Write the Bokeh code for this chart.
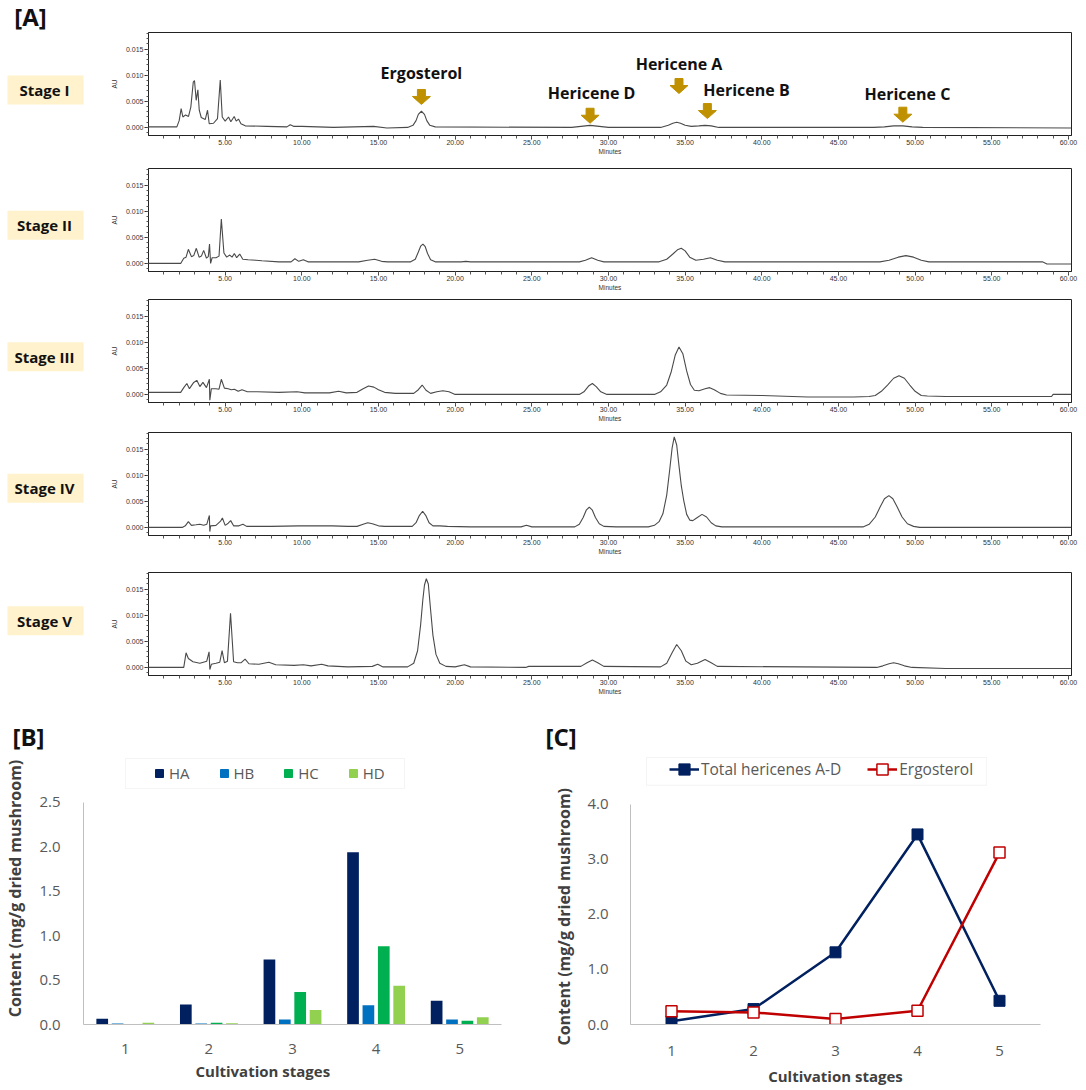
import math
from bokeh.plotting import figure
from bokeh.layouts import row, column
from bokeh.models import (Range1d, FixedTicker, NumeralTickFormatter, Legend, Title,
                          LegendItem, BoxAnnotation, ColumnDataSource)
from bokeh.transform import dodge
from bokeh.core.properties import value
from bokeh.embed import file_html
from bokeh.resources import INLINE

FONT = "Open Sans"
TICK_FONT = "Liberation Sans"

# ---------------- Panel A data (chromatogram traces) -------------
stage_names = ["Stage I", "Stage II", "Stage III", "Stage IV", "Stage V"]

s1_t = [0.0, 1.85, 2.0, 2.13, 2.24, 2.42, 2.61, 2.76, 2.92, 3.0,
        3.11, 3.22, 3.31, 3.44, 3.7, 3.85, 3.96, 4.24, 4.5, 4.68,
        4.81, 5.0, 5.22, 5.37, 5.59, 5.72, 5.87, 6.03, 6.31, 7.72,
        9.03, 9.24, 9.46, 10.0, 12.07, 14.68, 15.55, 16.9, 17.25, 17.45,
        17.6, 17.8, 18.0, 18.15, 18.35, 18.7, 27.6, 28.2, 28.8, 29.4,
        30.0, 33.4, 33.9, 34.2, 34.45, 34.7, 35.0, 35.4, 35.9, 36.3,
        36.7, 37.2, 47.3, 48.0, 48.6, 49.2, 49.8, 50.5, 60.2]
s1_au = [0.0001, 0.0001, 0.0013, 0.0036, 0.0020, 0.0024, 0.0021, 0.0039, 0.0087, 0.0090,
         0.0052, 0.0072, 0.0033, 0.0019, 0.0015, 0.0033, 0.0007, 0.0008, 0.0017, 0.0091,
         0.0020, 0.0012, 0.0020, 0.0011, 0.0021, 0.0012, 0.0016, 0.0007, 0.0003, 0.0002,
         0.0001, 0.0005, 0.0002, 0.0002, 0.0000, 0.0002, -0.0001, 0.0000, 0.0004, 0.0013,
         0.0025, 0.0031, 0.0025, 0.0013, 0.0004, 0.0001, 0.0000, 0.0002, 0.0004, 0.0002,
         0.0000, 0.0000, 0.0004, 0.0008, 0.0010, 0.0008, 0.0004, 0.0002, 0.0003, 0.0004,
         0.0003, 0.0000, 0.0000, 0.0001, 0.0003, 0.0003, 0.0001, 0.0000, -0.0001]

s2_t = [0.0, 2.1, 2.3, 2.45, 2.6, 2.8, 2.95, 3.12, 3.3, 3.45,
        3.6, 3.78, 3.9, 3.98, 4.05, 4.15, 4.4, 4.6, 4.75, 4.92,
        5.1, 5.3, 5.45, 5.6, 5.75, 5.95, 6.15, 6.5, 7.0, 7.4,
        8.5, 9.3, 9.55, 9.8, 10.1, 10.4, 13.7, 14.3, 14.75, 15.2,
        15.6, 17.1, 17.4, 17.6, 17.75, 17.9, 18.05, 18.2, 18.4, 18.7,
        20.4, 20.7, 21.0, 28.1, 28.5, 28.9, 29.3, 29.7, 33.3, 33.8,
        34.2, 34.5, 34.75, 35.0, 35.3, 35.7, 36.2, 36.65, 37.1, 37.6,
        47.7, 48.3, 48.9, 49.4, 49.9, 50.4, 50.9, 58.3, 58.6, 60.2]
s2_au = [0.0, 0.0, 0.0010, 0.0012, 0.0027, 0.0013, 0.0015, 0.0029, 0.0012, 0.0014,
         0.0025, 0.0010, 0.0013, 0.0037, 0.0000, 0.0011, 0.0011, 0.0014, 0.0085, 0.0020,
         0.0012, 0.0016, 0.0012, 0.0019, 0.0011, 0.0018, 0.0008, 0.0007, 0.0006, 0.0005,
         0.0003, 0.0003, 0.0009, 0.0004, 0.0007, 0.0003, 0.0003, 0.0006, 0.0008, 0.0004,
         0.0003, 0.0003, 0.0008, 0.0022, 0.0033, 0.0037, 0.0032, 0.0019, 0.0007, 0.0003,
         0.0003, 0.0004, 0.0003, 0.0003, 0.0006, 0.0011, 0.0006, 0.0003, 0.0003, 0.0008,
         0.0018, 0.0026, 0.0029, 0.0024, 0.0012, 0.0006, 0.0008, 0.0011, 0.0006, 0.0003,
         0.0003, 0.0006, 0.0012, 0.0015, 0.0012, 0.0006, 0.0003, 0.0003, -0.0001, -0.0001]

s3_t = [0.0, 2.1, 2.3, 2.5, 2.67, 2.95, 3.15, 3.35, 3.55, 3.78,
        3.97, 4.0, 4.1, 4.4, 4.6, 4.75, 4.95, 5.2, 5.4, 5.6,
        5.85, 6.1, 6.45, 7.1, 8.5, 9.7, 10.2, 11.8, 12.4, 12.9,
        13.6, 14.0, 14.35, 14.7, 15.0, 15.4, 16.1, 17.3, 17.6, 17.85,
        18.1, 18.4, 18.8, 19.2, 19.6, 20.0, 28.1, 28.4, 28.7, 28.95,
        29.2, 29.5, 29.9, 33.0, 33.4, 33.8, 34.1, 34.35, 34.6, 34.85,
        35.1, 35.35, 35.6, 35.9, 36.3, 36.6, 36.9, 37.3, 37.7, 40.0,
        43.0, 46.0, 47.0, 47.4, 47.8, 48.2, 48.6, 48.95, 49.3, 49.65,
        50.0, 50.4, 50.8, 52.0, 55.0, 58.9, 59.0, 60.2]
s3_au = [0.0004, 0.0004, 0.0013, 0.0021, 0.0011, 0.0023, 0.0027, 0.0015, 0.0023, 0.0013,
         0.0029, -0.0011, 0.0011, 0.0011, 0.0010, 0.0029, 0.0012, 0.0011, 0.0009, 0.0010,
         0.0006, 0.0009, 0.0005, 0.0005, 0.0004, 0.0005, 0.0003, 0.0003, 0.0006, 0.0003,
         0.0004, 0.0011, 0.0016, 0.0014, 0.0009, 0.0004, 0.0002, 0.0002, 0.0009, 0.0018,
         0.0008, 0.0002, 0.0005, 0.0007, 0.0005, 0.0000, 0.0000, 0.0005, 0.0016, 0.0021,
         0.0015, 0.0005, 0.0000, 0.0000, 0.0005, 0.0018, 0.0044, 0.0075, 0.0091, 0.0078,
         0.0045, 0.0019, 0.0008, 0.0007, 0.0011, 0.0013, 0.0009, 0.0002, -0.0001, -0.0002,
         -0.0005, -0.0005, -0.0004, -0.0002, 0.0006, 0.0018, 0.0031, 0.0036, 0.0031, 0.0018,
         0.0006, -0.0002, -0.0003, -0.0004, -0.0004, -0.0004, 0.0000, 0.0000]

s4_t = [0.0, 2.2, 2.4, 2.6, 2.8, 3.1, 3.35, 3.6, 3.8, 3.97,
        4.0, 4.05, 4.4, 4.7, 4.82, 5.0, 5.2, 5.36, 5.55, 5.9,
        6.16, 6.4, 7.0, 8.0, 9.8, 12.0, 13.0, 13.6, 14.0, 14.3,
        14.6, 15.0, 15.4, 17.2, 17.45, 17.65, 17.88, 18.1, 18.3, 18.55,
        19.0, 19.5, 21.0, 24.3, 24.65, 25.0, 27.8, 28.1, 28.35, 28.55,
        28.75, 28.95, 29.15, 29.4, 29.7, 30.5, 32.6, 33.0, 33.3, 33.55,
        33.8, 34.0, 34.15, 34.29, 34.45, 34.6, 34.75, 34.9, 35.1, 35.3,
        35.5, 35.75, 36.1, 36.4, 36.7, 37.0, 37.4, 40.0, 46.6, 47.0,
        47.4, 47.7, 48.0, 48.29, 48.55, 48.85, 49.15, 49.5, 49.9, 50.3,
        60.2]
s4_au = [0.0, 0.0, 0.0003, 0.0011, 0.0004, 0.0005, 0.0006, 0.0004, 0.0006, 0.0023,
         -0.0008, 0.0003, 0.0004, 0.0012, 0.0018, 0.0004, 0.0008, 0.0013, 0.0003, 0.0003,
         0.0006, 0.0002, 0.0002, 0.0002, 0.0003, 0.0003, 0.0002, 0.0002, 0.0006, 0.0009,
         0.0007, 0.0003, 0.0002, 0.0002, 0.0009, 0.0022, 0.0031, 0.0022, 0.0009, 0.0003,
         0.0003, 0.0002, 0.0001, 0.0001, 0.0004, 0.0001, 0.0001, 0.0006, 0.0019, 0.0033,
         0.0039, 0.0033, 0.0019, 0.0007, 0.0002, 0.0001, 0.0001, 0.0004, 0.0011, 0.0026,
         0.0062, 0.0112, 0.0152, 0.01735, 0.0158, 0.0118, 0.0080, 0.0053, 0.0025, 0.0014,
         0.0013, 0.0018, 0.0025, 0.0020, 0.0009, 0.0003, 0.0001, 0.0001, 0.0001, 0.0006,
         0.0020, 0.0038, 0.0055, 0.0061, 0.0055, 0.0038, 0.0020, 0.0007, 0.0002, 0.0000,
         0.0000]

s5_t = [0.0, 2.3, 2.45, 2.6, 2.9, 3.35, 3.8, 3.95, 4.0, 4.1,
        4.4, 4.65, 4.8, 4.95, 5.15, 5.35, 5.55, 5.8, 6.05, 6.3,
        6.55, 7.2, 7.85, 8.3, 9.5, 10.1, 10.6, 11.3, 11.7, 13.0,
        14.6, 14.95, 15.3, 16.9, 17.3, 17.55, 17.75, 17.9, 18.0, 18.12,
        18.25, 18.4, 18.55, 18.75, 19.0, 19.4, 20.0, 20.6, 21.0, 24.6,
        24.8, 28.2, 28.6, 28.95, 29.3, 29.7, 33.4, 33.8, 34.15, 34.45,
        34.75, 35.05, 35.4, 35.8, 36.3, 36.7, 37.1, 47.5, 47.9, 48.3,
        48.6, 48.9, 49.3, 49.8, 52.0, 60.2]
s5_au = [0.0, 0.0, 0.0028, 0.0017, 0.0011, 0.0008, 0.0012, 0.0030, -0.0004, 0.0006,
         0.0008, 0.0010, 0.0032, 0.0009, 0.0012, 0.0104, 0.0011, 0.0009, 0.0009, 0.0016,
         0.0007, 0.0006, 0.0010, 0.0005, 0.0004, 0.0005, 0.0003, 0.0006, 0.0003, 0.0001,
         0.0002, 0.0006, 0.0001, 0.0001, 0.0008, 0.0032, 0.0082, 0.0132, 0.0158, 0.0170,
         0.0160, 0.0110, 0.0062, 0.0025, 0.0008, 0.0002, 0.0001, 0.0005, 0.0001, 0.0000,
         0.0002, 0.0002, 0.0009, 0.0014, 0.0009, 0.0002, 0.0001, 0.0008, 0.0028, 0.0044,
         0.0032, 0.0012, 0.0005, 0.0008, 0.0015, 0.0009, 0.0002, 0.0000, 0.0003, 0.0007,
         0.0009, 0.0007, 0.0003, 0.0000, -0.0002, -0.0002]

peak_labels = ["Ergosterol", "Hericene D", "Hericene A", "Hericene B", "Hericene C"]
peak_label_t = [17.8, 28.9, 34.6, 39.0, 49.5]
peak_label_au = [0.0105, 0.0066, 0.0122, 0.0072, 0.0065]
arrow_t = [17.8, 28.8, 34.6, 36.45, 49.2]
arrow_tip_au = [0.0044, 0.0008, 0.0065, 0.0017, 0.0010]

minute_ticks = [5, 10, 15, 20, 25, 30, 35, 40, 45, 50, 55, 60]
minute_minor = list(range(1, 61))
au_ticks = [0.0, 0.005, 0.010, 0.015]
au_minor = [i / 1000 for i in range(-1, 19)]

# ---------------- Panel B / C data -------------
stages = [1, 2, 3, 4, 5]
HA = [0.064, 0.226, 0.733, 1.94, 0.267]
HB = [0.011, 0.011, 0.056, 0.218, 0.056]
HC = [0.0, 0.019, 0.365, 0.88, 0.041]
HD = [0.019, 0.015, 0.162, 0.436, 0.083]
total_hericenes = [0.06, 0.28, 1.31, 3.45, 0.43]
ergosterol = [0.24, 0.22, 0.10, 0.25, 3.12]

# ---------------- Panel A figures -------------
XR = (0, 60.2)
YR = (-0.00155, 0.0182)
FRAME_W = 923
FRAME_H = 103


def chrom(t, au, top, bottom):
    p = figure(width=984, height=top + FRAME_H + bottom,
               x_range=Range1d(*XR), y_range=Range1d(*YR),
               output_backend="svg", toolbar_location=None, title=None,
               min_border_left=48, min_border_right=13,
               min_border_top=top, min_border_bottom=bottom,
               background_fill_color="white", border_fill_color="white")
    p.line(t, au, line_color="#4a4a4a", line_width=1.1)
    p.xgrid.visible = False
    p.ygrid.visible = False
    p.outline_line_color = "#222222"
    p.outline_line_width = 1
    xa = p.xaxis[0]
    xa.ticker = FixedTicker(ticks=minute_ticks, minor_ticks=minute_minor)
    xa.formatter = NumeralTickFormatter(format="0.00")
    xa.axis_label = "Minutes"
    ya = p.yaxis[0]
    ya.ticker = FixedTicker(ticks=au_ticks, minor_ticks=au_minor)
    ya.formatter = NumeralTickFormatter(format="0.000")
    ya.axis_label = "AU"
    for ax in (xa, ya):
        ax.axis_line_color = "#222222"
        ax.major_tick_line_color = "#333333"
        ax.minor_tick_line_color = "#555555"
        ax.major_tick_in = 0
        ax.minor_tick_in = 0
        ax.major_label_text_font = TICK_FONT
        ax.major_label_text_font_size = "7px"
        ax.major_label_text_color = "#333333"
        ax.axis_label_text_font = TICK_FONT
        ax.axis_label_text_font_size = "6.5px"
        ax.axis_label_text_font_style = "normal"
        ax.axis_label_text_color = "#333333"
    xa.major_tick_out = 4
    xa.minor_tick_out = 3
    xa.major_label_standoff = 0
    xa.axis_label_standoff = 0
    ya.major_tick_out = 4
    ya.minor_tick_out = 2
    ya.major_label_standoff = 1
    ya.axis_label_standoff = 5
    return p


traces = [(s1_t, s1_au), (s2_t, s2_au), (s3_t, s3_au), (s4_t, s4_au), (s5_t, s5_au)]
borders = [(32, 29), (4, 27), (1, 29), (1, 36), (1, 33)]
chroms = [chrom(t, a, tb, bb) for (t, a), (tb, bb) in zip(traces, borders)]

# annotations on stage I
p1 = chroms[0]
p1.text(x=peak_label_t, y=peak_label_au, text=peak_labels,
        text_font=value(FONT), text_font_style="bold", text_font_size="16px",
        text_align="center", text_baseline="middle", text_color="#111111")
px_x = (XR[1] - XR[0]) / FRAME_W
px_y = (YR[1] - YR[0]) / FRAME_H
arrow_shape = [(-4, 15), (4, 15), (4, 8), (9, 8), (0, 0), (-9, 8), (-4, 8)]
arr_xs = [[t + dx * px_x for dx, dy in arrow_shape] for t in arrow_t]
arr_ys = [[a + dy * px_y for dx, dy in arrow_shape] for a in arrow_tip_au]
p1.patches(arr_xs, arr_ys, fill_color="#BF9000", line_color="#BF9000", line_width=1)

# left column with stage labels
PANEL_A_H = 708
stage_label_y = [89.5, 224.8, 356.3, 487.8, 620.2]
pl = figure(width=100, height=PANEL_A_H, x_range=Range1d(0, 100), y_range=Range1d(PANEL_A_H, 0),
            output_backend="svg", toolbar_location=None, title=None,
            x_axis_location=None, y_axis_location=None, min_border=0,
            background_fill_color="white", border_fill_color="white")
pl.xgrid.visible = False
pl.ygrid.visible = False
pl.outline_line_color = None
pl.rect(x=[45] * 5, y=stage_label_y, width=76, height=29,
        fill_color="#FFF2CC", line_color=None)
pl.text(x=[44] * 5, y=stage_label_y, text=stage_names,
        text_font=value(FONT), text_font_style="bold", text_font_size="15px",
        text_align="center", text_baseline="middle", text_color="#111111")
pl.text(x=[30], y=[16], text=["[A]"], text_font=value(FONT), text_font_style="bold",
        text_font_size="24px", text_align="center", text_baseline="middle",
        text_color="#111111")

panelA = row(pl, column(*chroms))


def style_xy(p, yticks, ybounds, ystandoff, xstandoff):
    p.xgrid.visible = False
    p.ygrid.visible = False
    p.outline_line_color = None
    p.xaxis.ticker = FixedTicker(ticks=stages)
    p.yaxis.ticker = FixedTicker(ticks=yticks)
    p.yaxis.formatter = NumeralTickFormatter(format="0.0")
    p.yaxis.bounds = ybounds
    for ax in (p.xaxis[0], p.yaxis[0]):
        ax.axis_line_color = "#BFBFBF"
        ax.axis_line_width = 1
        ax.major_tick_line_color = None
        ax.minor_tick_line_color = None
        ax.major_tick_out = 0
        ax.major_tick_in = 0
        ax.minor_tick_out = 0
        ax.minor_tick_in = 0
        ax.major_label_text_font = FONT
        ax.major_label_text_font_size = "15px"
        ax.major_label_text_color = "#595959"
        ax.axis_label_text_font = FONT
        ax.axis_label_text_font_style = "bold"
        ax.axis_label_text_color = "#404040"
    p.yaxis.major_label_standoff = ystandoff
    p.xaxis.major_label_standoff = xstandoff


def panel_title(p, text, offset):
    p.add_layout(Title(text=text, align="left", offset=offset, standoff=0,
                       vertical_align="bottom", text_font=FONT, text_font_style="bold",
                       text_font_size="24px", text_color="#111111"), "above")


# ---------------- Panel B -------------
pB = figure(width=535, height=380, x_range=Range1d(0.5, 5.5), y_range=Range1d(0, 3.063),
            output_backend="svg", toolbar_location=None, title=None,
            min_border_left=83, min_border_right=34, min_border_top=44, min_border_bottom=64,
            background_fill_color="white", border_fill_color="white")
style_xy(pB, [0, 0.5, 1.0, 1.5, 2.0, 2.5], (0, 2.5), 23, 19)
pB.yaxis.axis_label = "Content (mg/g dried mushroom)"
pB.yaxis.axis_label_text_font_size = "16px"
pB.yaxis.axis_label_standoff = 10
srcB = ColumnDataSource(dict(stage=stages, HA=HA, HB=HB, HC=HC, HD=HD))
series = ["HA", "HB", "HC", "HD"]
colorsB = ["#002060", "#0070C0", "#00B050", "#92D050"]
offsets = [-0.276, -0.092, 0.092, 0.276]
for name, off, c in zip(series, offsets, colorsB):
    pB.vbar(x=dodge("stage", off, range=pB.x_range), top=name, width=0.14, source=srcB,
            fill_color=c, line_color=None)
pB.add_layout(BoxAnnotation(left=1.002, right=4.34, bottom=2.658, top=2.995,
                            fill_color="white", fill_alpha=1.0,
                            line_color="#D9D9D9", line_width=1))
legB_items = []
for name, c in zip(series, colorsB):
    # legend swatch only: a single point placed below the visible range
    r = pB.scatter(x=[3], y=[-1], marker="square", size=8, fill_color=c, line_color=c)
    legB_items.append(LegendItem(label=name, renderers=[r]))
legB = Legend(items=legB_items, orientation="horizontal", location=(66, 241),
              glyph_width=20, glyph_height=20, label_height=20, label_standoff=0,
              spacing=24, padding=0, margin=0, border_line_color=None,
              background_fill_alpha=0, label_text_font=FONT,
              label_text_font_size="15px", label_text_color="#595959")
pB.add_layout(legB)
pB.add_layout(Title(text="Cultivation stages", align="left", offset=112, standoff=8,
                    vertical_align="top", text_font=FONT, text_font_style="bold",
                    text_font_size="15px", text_color="#404040"), "below")
panel_title(pB, "[B]", -71)

# ---------------- Panel C -------------
pC = figure(width=549, height=380, x_range=Range1d(0.5, 5.5), y_range=Range1d(0, 4.937),
            output_backend="svg", toolbar_location=None, title=None,
            min_border_left=95, min_border_right=44, min_border_top=44, min_border_bottom=62,
            background_fill_color="white", border_fill_color="white")
style_xy(pC, [0, 1, 2, 3, 4], (0, 4), 22, 21)
pC.xaxis.axis_label = "Cultivation stages"
pC.xaxis.axis_label_text_font_size = "15px"
pC.xaxis.axis_label_standoff = 7
l1 = pC.line(stages, total_hericenes, line_color="#002060", line_width=2.5)
m1 = pC.scatter(stages, total_hericenes, marker="square", size=11,
                fill_color="#002060", line_color="#002060")
l2 = pC.line(stages, ergosterol, line_color="#C00000", line_width=2.5)
m2 = pC.scatter(stages, ergosterol, marker="square", size=11,
                fill_color="white", line_color="#C00000", line_width=1.5)
pC.add_layout(BoxAnnotation(left=0.695, right=4.84, bottom=4.342, top=4.847,
                            fill_color="white", fill_alpha=1.0,
                            line_color="#D9D9D9", line_width=1))
legC = Legend(items=[LegendItem(label="Total hericenes A-D", renderers=[l1, m1]),
                     LegendItem(label="Ergosterol", renderers=[l2, m2])],
              orientation="horizontal", location=(39, 241),
              glyph_width=30, glyph_height=28, label_height=28, label_standoff=2,
              spacing=26, padding=0, margin=0, border_line_color=None,
              background_fill_alpha=0, label_text_font=FONT,
              label_text_font_size="15.5px", label_text_color="#595959")
pC.add_layout(legC)
pC.add_layout(Title(text="Content (mg/g dried mushroom)", align="left", offset=-21, standoff=20,
                    vertical_align="bottom", text_font=FONT, text_font_style="bold",
                    text_font_size="16px", text_color="#404040"), "left")
panel_title(pC, "[C]", -85)

layout = column(panelA, row(pB, pC))
open("out.html", "w").write(file_html(layout, INLINE))
